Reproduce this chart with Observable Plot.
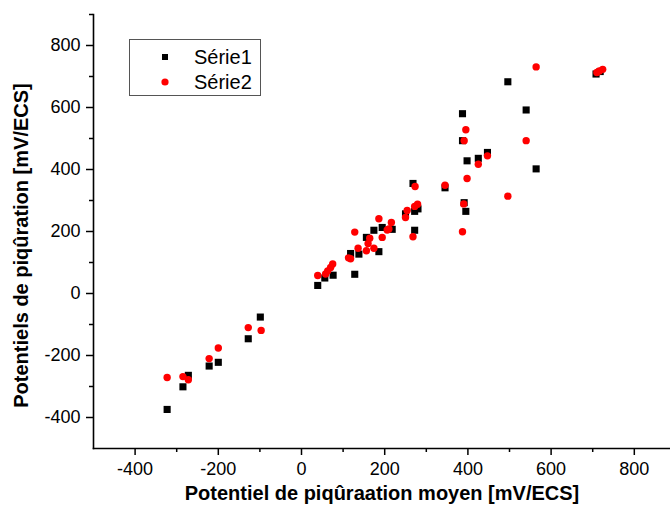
<!DOCTYPE html>
<html><head><meta charset="utf-8">
<script src="https://cdn.jsdelivr.net/npm/d3@7"></script>
<script src="https://cdn.jsdelivr.net/npm/@observablehq/plot@0.6"></script>
<style>
body{margin:0;background:#fff;}
#wrap{position:relative;width:670px;height:513px;}
.legend{position:absolute;left:129px;top:39px;width:132px;height:57px;border:1px solid #555;box-sizing:border-box;background:#fff;font-family:Arial,"Liberation Sans",sans-serif;font-size:20px;color:#000;}
.legend .row{position:absolute;left:0;height:22px;}
.legend svg{position:absolute;left:26px;top:5px;}
.legend span{position:absolute;left:64px;top:0;line-height:22px;}
</style></head><body>
<div id="wrap"></div>
<script>
const seriesNames = ["Série1", "Série2"];
const serie1X = [-323,-285,-272,-222,-200,-128,-99,39,56,76,118,138,128,156,174,186,194,218,250,272,280,268,272,345,387,387,391,395,398,425,447,496,540,564,708,718];
const serie1Y = [-374,-301,-264,-234,-222,-146,-76,26,50,59,129,127,62,181,204,135,213,207,257,265,273,355,204,341,580,493,293,265,428,436,455,683,592,402,708,716];
const serie2X = [-323,-285,-272,-222,-200,-128,-97,39,58,63,70,75,113,118,128,136,156,160,164,174,186,194,206,210,216,250,254,272,279,268,273,345,387,390,391,395,398,425,447,496,540,564,710,716,724];
const serie2Y = [-271,-268,-278,-210,-176,-110,-119,58,63,73,84,95,115,112,198,146,138,161,178,146,241,181,205,208,229,245,268,281,288,183,345,349,199,289,493,528,371,417,444,314,493,731,713,718,723];
const xTicks = [-400,-200,0,200,400,600,800];
const xMinor = [-300,-100,100,300,500,700];
const yTicks = [-400,-200,0,200,400,600,800];
const yMinor = [-300,-100,100,300,500,700,900];
const xTitle = "Potentiel de piqûraation moyen [mV/ECS]";
const yTitle = "Potentiels de piqûration [mV/ECS]";

const s1 = serie1X.map((x,i)=>({x, y: serie1Y[i], s: seriesNames[0]}));
const s2 = serie2X.map((x,i)=>({x, y: serie2Y[i], s: seriesNames[1]}));

const font = "Arial, 'Liberation Sans', sans-serif";
const fmt = d => String(d);
const chart = Plot.plot({
  width: 670, height: 513,
  marginLeft: 93, marginRight: 0, marginTop: 14, marginBottom: 65,
  x: {domain: [-500, 887]},
  y: {domain: [-500, 900]},
  style: {fontFamily: font, fontSize: "18px", color: "#000", background: "#fff", overflow: "visible"},
  marks: [
    Plot.frame({anchor: "bottom", strokeWidth: 1.6}),
    Plot.frame({anchor: "left", strokeWidth: 1.6}),
    Plot.axisX(xTicks, {tickSize: 7, tickPadding: 7, strokeWidth: 1.5, label: null, fontSize: 18, tickFormat: fmt}),
    Plot.axisX(xMinor, {tickSize: 4, text: null, strokeWidth: 1.5, label: null}),
    Plot.axisY(yTicks, {tickSize: 7, tickPadding: 6, strokeWidth: 1.5, label: null, fontSize: 18, tickFormat: fmt}),
    Plot.axisY(yMinor, {tickSize: 4, text: null, strokeWidth: 1.5, label: null}),
    Plot.dot(s1, {x: "x", y: "y", symbol: "square", r: 4, fill: "#000", stroke: "none"}),
    Plot.dot(s2, {x: "x", y: "y", symbol: "circle", r: 3.7, fill: "#ff0000", stroke: "none"}),
    Plot.text([xTitle], {frameAnchor: "bottom", textAnchor: "middle", dy: 51, fontSize: 20, fontWeight: "bold", fill: "#000", letterSpacing: "-0.7px"}),
    Plot.text([yTitle], {frameAnchor: "left", textAnchor: "middle", dx: -72, dy: 14, rotate: -90, fontSize: 20, fontWeight: "bold", fill: "#000", letterSpacing: "-0.3px"})
  ]
});
const wrap = document.getElementById("wrap");
wrap.appendChild(chart);
const leg = document.createElement("div");
leg.className = "legend";
leg.innerHTML =
  `<div class="row" style="top:6px;width:100%"><svg width="20" height="12"><rect x="6" y="3" width="6" height="6" fill="#000"/></svg><span>${seriesNames[0]}</span></div>` +
  `<div class="row" style="top:31px;width:100%"><svg width="20" height="12"><circle cx="9" cy="6" r="3.6" fill="#ff0000"/></svg><span>${seriesNames[1]}</span></div>`;
wrap.appendChild(leg);
</script>
</body></html>
